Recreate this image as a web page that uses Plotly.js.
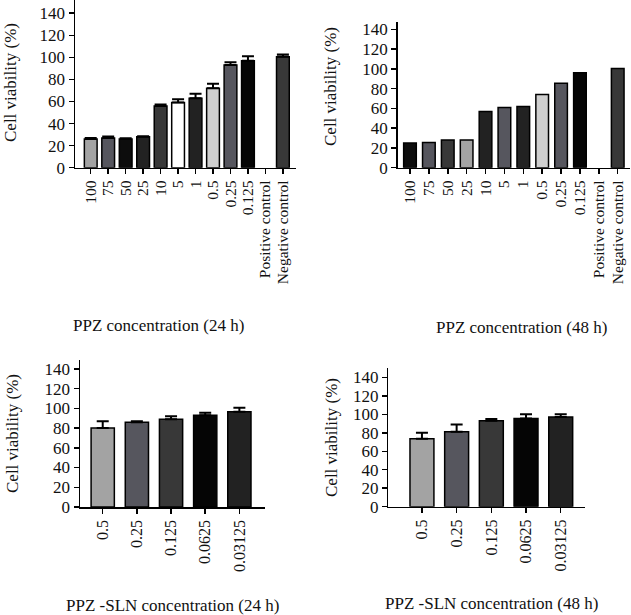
<!DOCTYPE html>
<html>
<head>
<meta charset="utf-8">
<script src="https://cdn.plot.ly/plotly-3.0.1.min.js"></script>
<style>html,body{margin:0;padding:0;background:#fff;}#chart{width:631px;height:615px;}</style>
</head>
<body>
<div id="chart"></div>
<script>
// ---- data ----
const ppzCategories = ["100","75","50","25","10","5","1","0.5","0.25","0.125","Positive control","Negative control"];
const ppz24Values = [26, 27, 26, 28, 56, 59, 63, 72, 93, 97, 0, 100.5];
const ppz24Errors = [1, 1.2, 0.8, 0.6, 1.2, 3, 4, 4, 2.5, 4, null, 2];
const ppz48Values = [25, 25.5, 28, 28, 57, 61, 62, 74, 85.5, 96, 0, 100.5];

const slnCategories = ["0.5","0.25","0.125","0.0625","0.03125"];
const sln24Values = [80, 86, 89, 93, 96.5];
const sln24Errors = [7, 1, 3, 2.5, 4];
const sln48Values = [73.5, 81, 93, 95.5, 97];
const sln48Errors = [6.5, 8, 1.8, 4.5, 3];

const yTickValues = [0, 20, 40, 60, 80, 100, 120, 140];

const titles = {
  p1: "PPZ concentration (24 h)",
  p2: "PPZ concentration (48 h)",
  p3: "PPZ -SLN concentration (24 h)",
  p4: "PPZ -SLN concentration (48 h)",
  y: "Cell viability (%)"
};

// ---- styles ----
const colors1 = ['#a3a3a3','#56565e','#0d0d0d','#222222','#383838','#ffffff','#222222','#cfcfcf','#56565e','#050505','#383838','#383838'];
const colors2 = ['#0d0d0d','#56565e','#383838','#a3a3a3','#222222','#56565e','#222222','#cfcfcf','#56565e','#050505','#383838','#383838'];
const colors3 = ['#a3a3a3','#56565e','#383838','#050505','#222222'];
const outline12 = [1.5,1.5,1.5,1.5,1.5,1.5,1.5,1.5,1.5,1.5,0,1.5];

const FONT = "Liberation Serif, Times New Roman, serif";
const W = 631, H = 615;
const px = v => v / W;
const py = v => 1 - v / H;

function errY(arr) {
  if (!arr) return undefined;
  return {type:'data', symmetric:false,
          array: arr.map(v => v == null ? NaN : v),
          arrayminus: arr.map(v => v == null ? NaN : 0),
          color:'#000', thickness:2, width:6, visible:true};
}
function barTrace(cats, vals, errs, colors, xa, ya, w, lw) {
  return {
    type:'bar', x:cats, y:vals, xaxis:xa, yaxis:ya, width:w,
    marker:{color:colors, line:{color:'#000', width:lw || 1.5}},
    error_y: errY(errs), hoverinfo:'x+y', showlegend:false
  };
}

const traces = [
  barTrace(ppzCategories, ppz24Values, ppz24Errors, colors1, 'x', 'y', 0.73, outline12),
  barTrace(ppzCategories, ppz48Values, null, colors2, 'x2', 'y2', 0.67, outline12),
  barTrace(slnCategories, sln24Values, sln24Errors, colors3, 'x3', 'y3', 0.68),
  barTrace(slnCategories, sln48Values, sln48Errors, colors3, 'x4', 'y4', 0.69)
];

function xAxis(cats, domain, anchor, range, fs) {
  return {domain:domain, anchor:anchor, type:'category', range:range,
    tickmode:'array', tickvals:cats, ticktext:cats,
    showline:true, linecolor:'#000', linewidth:1.5, ticks:'outside', ticklen:5, tickwidth:1.5, tickcolor:'#000',
    tickangle:-90, tickfont:{family:FONT, size:fs, color:'#111'}, showgrid:false, zeroline:false, fixedrange:true};
}
function yAxis(domain, anchor, range) {
  return {domain:domain, anchor:anchor, range:range, tickmode:'array', tickvals:yTickValues,
    showline:true, linecolor:'#000', linewidth:1.5, ticks:'outside', ticklen:5, tickwidth:1.5, tickcolor:'#000',
    tickfont:{family:FONT, size:17, color:'#111'}, showgrid:false, zeroline:false, fixedrange:true};
}

function ann(text, x, y, angle) {
  return {text:text, x:px(x), y:py(y), xref:'paper', yref:'paper', showarrow:false,
    textangle:angle||0, xanchor:'center', yanchor:'middle', font:{family:FONT, size:17, color:'#111'}};
}

const layout = {
  width:W, height:H, margin:{l:0, r:0, t:0, b:0},
  paper_bgcolor:'#fff', plot_bgcolor:'#fff', bargap:0.3, showlegend:false,
  xaxis:  xAxis(ppzCategories, [px(75), px(296)], 'y',  [-0.9, 11.75], 15.5),
  yaxis:  yAxis([py(167.7), 1], 'x', [0, 152]),
  xaxis2: xAxis(ppzCategories, [px(397.7), px(630)], 'y2', [-0.65, 11.65], 15.5),
  yaxis2: yAxis([py(167.7), py(21.7)], 'x2', [0, 147.8]),
  xaxis3: xAxis(slnCategories, [px(80), px(265)], 'y3', [-0.665, 4.75], 16),
  yaxis3: yAxis([py(507), py(360)], 'x3', [0, 149]),
  xaxis4: xAxis(slnCategories, [px(388.3), px(585)], 'y4', [-0.97, 4.70], 16),
  yaxis4: yAxis([py(506.7), py(368.3)], 'x4', [0, 149.8]),
  annotations: [
    ann(titles.p1, 158, 325),
    ann(titles.p2, 521, 327),
    ann(titles.p3, 172, 605),
    ann(titles.p4, 491, 603),
    ann(titles.y, 10, 83, -90),
    ann(titles.y, 330, 87, -90),
    ann(titles.y, 12, 434, -90),
    ann(titles.y, 331, 438, -90)
  ]
};

Plotly.newPlot('chart', traces, layout, {displayModeBar:false, staticPlot:true});
</script>
</body>
</html>
